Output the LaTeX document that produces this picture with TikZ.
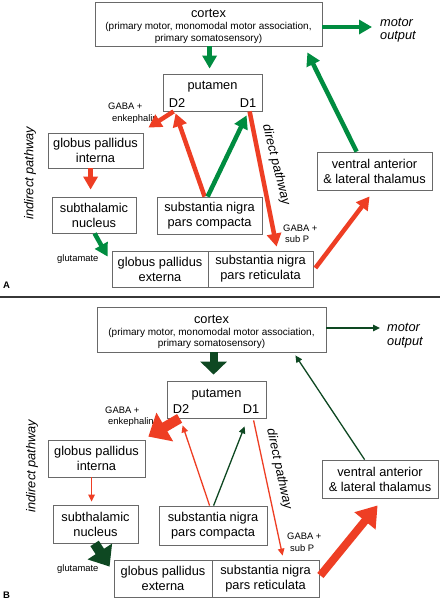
\documentclass[tikz,border=0pt]{standalone}
\usepackage{fontspec}
\setmainfont{Liberation Sans}
\usetikzlibrary{arrows.meta,calc}
\definecolor{redA}{RGB}{238,62,36}
\definecolor{greenA}{RGB}{0,140,64}
\definecolor{dgreen}{RGB}{14,72,34}
\definecolor{boxgray}{RGB}{105,105,105}
\definecolor{sepgray}{RGB}{55,55,55}
\begin{document}
\begin{tikzpicture}[x=1pt,y=-1pt,
  box/.style={draw=boxgray,line width=0.8pt,fill=white,inner sep=0pt,align=center,font=\fontsize{12.8}{15}\selectfont},
  lbl/.style={inner sep=0pt,font=\fontsize{12.8}{15}\selectfont},
  sublbl/.style={inner sep=0pt,font=\fontsize{10}{12}\selectfont},
  smalllbl/.style={inner sep=0pt,font=\fontsize{9.4}{11}\selectfont},
  pathlbl/.style={inner sep=0pt,font=\itshape\fontsize{12.8}{15}\selectfont},
  panellbl/.style={inner sep=0pt,font=\bfseries\fontsize{9.5}{10}\selectfont},
  thickA/.style={line width=4.5pt,-{Triangle[length=13pt,width=14pt]}},
  thinB/.style={line width=1.3pt,-{Triangle[length=7pt,width=6.5pt]}},
]
\useasboundingbox (0,0) rectangle (440,600);
\fill[white] (0,0) rectangle (440,600);

% ================= Panel A =================
\node[box,minimum width=227pt,minimum height=44pt] (cxA) at (208.5,24) {};
\node[lbl,anchor=base] (cxAt) at (208.5,17) {cortex};
\node[sublbl,anchor=base] (cxAs1) at (208.5,29.5) {(primary motor, monomodal motor association,};
\node[sublbl,anchor=base] (cxAs2) at (208.5,41) {primary somatosensory)};
\node[pathlbl,anchor=base west] (moA1) at (380,26.5) {motor};
\node[pathlbl,anchor=base west] (moA2) at (380,39.5) {output};

\node[box,minimum width=99pt,minimum height=37pt] (putA) at (212.5,92.5) {};
\node[lbl,anchor=base] (putAt) at (212.5,89.5) {putamen};
\node[lbl,anchor=base] (putAd2) at (177,107) {D2};
\node[lbl,anchor=base] (putAd1) at (248,107) {D1};

\node[box,minimum width=95pt,minimum height=35pt] (GPiA) at (95.5,150.5) {globus pallidus\\interna};
\node[box,minimum width=84pt,minimum height=36pt] (STNA) at (94,215) {subthalamic\\nucleus};
\node[box,minimum width=105pt,minimum height=37pt] (SNcA) at (209.5,215.5) {substantia nigra\\pars compacta};
\node[box,minimum width=96pt,minimum height=36pt] (GPeA) at (160,269) {globus pallidus\\externa};
\node[box,minimum width=105pt,minimum height=36pt] (SNrA) at (260.5,269) {substantia nigra\\pars reticulata};
\node[box,minimum width=115pt,minimum height=38pt] (thalA) at (374.5,171) {ventral anterior\\\& lateral thalamus};

\node[smalllbl,anchor=base west] (gabaA1) at (108,109) {GABA +};
\node[smalllbl,anchor=base west] (gabaA2) at (112,121) {enkephalin};
\node[smalllbl,anchor=base west] (gluA) at (57,261) {glutamate};
\node[smalllbl,anchor=base west] (subpA1) at (283,231) {GABA +};
\node[smalllbl,anchor=base west] (subpA2) at (285,242) {sub P};
\node[pathlbl,rotate=90] (indA) at (30,173) {indirect pathway};
\node[pathlbl,rotate=-76] (dirA) at (276,165) {direct pathway};
\node[panellbl,anchor=base west] (labA) at (3,288) {A};

\draw[thickA,greenA] (cxA.east |- 0,27) -- ([xshift=-8pt]moA1.west |- 0,27);
\draw[thickA,greenA] ($(cxA.south west)+(115,0)$) -- ($(putA.north west)+(47,-5)$);
\draw[thickA,redA] ($(putA.south west)+(11,0)$) -- ($(GPiA.north east)+(5,-5)$);
\draw[thickA,redA] ($(SNcA.north west)+(48,0)$) -- ($(putA.south west)+(13,2)$);
\draw[thickA,greenA] ($(SNcA.north west)+(51,0)$) -- ($(putA.south west)+(84,4)$);
\draw[thickA,redA] ($(putA.south west)+(87,0)$) -- ($(SNrA.north west)+(69,-4)$);
\draw[thickA,redA] ($(GPiA.south west)+(43,0)$) -- ($(STNA.north west)+(39,-7)$);
\draw[thickA,greenA] ($(STNA.south west)+(43,0)$) -- ($(GPeA.north west)+(-4,6)$);
\draw[thickA,redA] ($(SNrA.east)+(2,-1)$) -- ($(thalA.south west)+(53,6)$);
\draw[thickA,greenA] ($(thalA.north west)+(40,0)$) -- ($(cxA.south east)+(-15,6)$);

% separator
\draw[sepgray,line width=2pt] (0,296.5) -- (440,296.5);

% ================= Panel B =================
\node[box,minimum width=229pt,minimum height=45pt] (cxB) at (211.5,329.5) {};
\node[lbl,anchor=base] (cxBt) at (211.5,323) {cortex};
\node[sublbl,anchor=base] (cxBs1) at (211.5,335.5) {(primary motor, monomodal motor association,};
\node[sublbl,anchor=base] (cxBs2) at (211.5,346.5) {primary somatosensory)};
\node[pathlbl,anchor=base west] (moB1) at (387,331.5) {motor};
\node[pathlbl,anchor=base west] (moB2) at (387,345) {output};

\node[box,minimum width=99pt,minimum height=37pt] (putB) at (216.5,399.5) {};
\node[lbl,anchor=base] (putBt) at (216.5,397) {putamen};
\node[lbl,anchor=base] (putBd2) at (181,413) {D2};
\node[lbl,anchor=base] (putBd1) at (251,413) {D1};

\node[box,minimum width=97pt,minimum height=37pt] (GPiB) at (96.5,458.5) {globus pallidus\\interna};
\node[box,minimum width=85pt,minimum height=38pt] (STNB) at (95.5,524) {subthalamic\\nucleus};
\node[box,minimum width=108pt,minimum height=39pt] (SNcB) at (213,525.5) {substantia nigra\\pars compacta};
\node[box,minimum width=98pt,minimum height=37pt] (GPeB) at (163,578.5) {globus pallidus\\externa};
\node[box,minimum width=107pt,minimum height=37pt] (SNrB) at (265.5,578.5) {substantia nigra\\pars reticulata};
\node[box,minimum width=116pt,minimum height=38pt] (thalB) at (380,479) {ventral anterior\\\& lateral thalamus};

\node[smalllbl,anchor=base west] (gabaB1) at (105,413) {GABA +};
\node[smalllbl,anchor=base west] (gabaB2) at (108,424) {enkephalin};
\node[smalllbl,anchor=base west] (gluB) at (57,571) {glutamate};
\node[smalllbl,anchor=base west] (subpB1) at (287,539) {GABA +};
\node[smalllbl,anchor=base west] (subpB2) at (290,551) {sub P};
\node[pathlbl,rotate=90] (indB) at (32,466) {indirect pathway};
\node[pathlbl,rotate=-78] (dirB) at (279,469) {direct pathway};
\node[panellbl,anchor=base west] (labB) at (3,598) {B};

\draw[thinB,dgreen] (cxB.east |- 0,328) -- ([xshift=-7pt]moB1.west |- 0,328);
\draw[dgreen,line width=8pt,-{Triangle[length=13pt,width=26pt]}] ($(cxB.south west)+(117,0)$) -- ($(putB.north west)+(47,-6)$);
\draw[redA,line width=10pt,-{Triangle[length=19pt,width=32pt]}] ($(putB.south west)+(13,0)$) -- ($(GPiB.north east)+(3,-3)$);
\draw[thinB,redA] ($(SNcB.north west)+(51,0)$) -- ($(putB.south west)+(16,7)$);
\draw[thinB,dgreen] ($(SNcB.north west)+(55,0)$) -- ($(putB.south west)+(78,8)$);
\draw[thinB,redA] ($(putB.south west)+(87,2)$) -- ($(SNrB.north west)+(71,-4)$);
\draw[thinB,redA] ($(GPiB.south west)+(44,0)$) -- ($(STNB.north west)+(39,-3)$);
\draw[dgreen,line width=10pt,-{Triangle[length=18pt,width=28pt]}] ($(STNB.south west)+(42,0)$) -- ($(GPeB.north west)+(-4,7)$);
\draw[redA,line width=8pt,-{Triangle[length=20pt,width=26pt]}] ($(SNrB.east)+(1,-3)$) -- ($(thalB.south west)+(56,7)$);
\draw[thinB,dgreen] ($(thalB.north west)+(43,0)$) -- ($(cxB.south east)+(-31,3)$);
\end{tikzpicture}
\end{document}
